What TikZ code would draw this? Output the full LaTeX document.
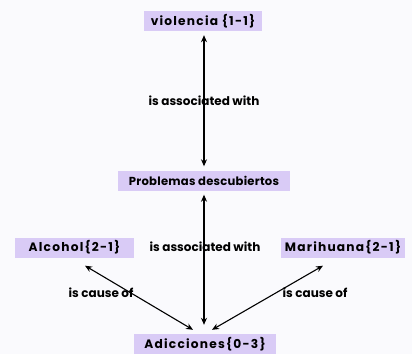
\documentclass[tikz,border=0pt]{standalone}
\usepackage{fontspec}
\setmainfont{Poppins}
\newfontfamily\nodefont[LetterSpace=10]{Poppins}
\newfontfamily\nodefonttight[LetterSpace=2]{Poppins}
\usetikzlibrary{arrows.meta}
\definecolor{bgc}{HTML}{FAFAFD}
\definecolor{nodec}{HTML}{D9CBF6}
\begin{document}
\begin{tikzpicture}[x=1pt,y=-1pt,
  concept/.style={fill=nodec,minimum height=20pt,inner xsep=4pt,inner ysep=0pt,font=\nodefont\bfseries\fontsize{12.2}{13}\selectfont,text=black},
  concepttight/.style={concept,font=\nodefonttight\bfseries\fontsize{11.6}{13}\selectfont},
  lab/.style={font=\bfseries\fontsize{12}{13}\selectfont,text=black},
  link/.style={line width=1.1pt,{Stealth[length=7pt,width=6pt]}-{Stealth[length=7pt,width=6pt]}}]
\fill[bgc] (0,0) rectangle (412,354);
\useasboundingbox (0,0) rectangle (412,354);
\node[concept,minimum width=118pt] (vio) at (203,21) {violencia \{1-1\}};
\node[concepttight,minimum width=172pt] (pro) at (204,180.5) {Problemas descubiertos};
\node[concept,minimum width=119pt] (alc) at (74.5,247.5) {Alcohol\{2-1\}};
\node[concept,minimum width=118pt] (mar) at (343,247.5) {Marihuana\{2-1\}};
\node[concept,minimum width=142pt] (adi) at (205,344) {Adicciones\{0-3\}};
\node[lab] (l1) at (204,101) {is associated with};
\node[lab] (l2) at (205,247) {is associated with};
\node[lab] (l3) at (101,293) {is cause of};
\node[lab] (l4) at (315,293) {is cause of};
\draw[link] ([xshift=1pt,yshift=-4pt]vio.south) -- ([yshift=4pt]pro.north);
\draw[link] ([yshift=-4pt]pro.south) -- ([xshift=-1pt,yshift=9pt]adi.north);
\draw[link] ([xshift=10.5pt,yshift=-8pt]alc.south) -- ([xshift=-12pt,yshift=4pt]adi.north);
\draw[link] ([xshift=-20pt,yshift=-8pt]mar.south) -- ([xshift=7pt,yshift=4pt]adi.north);
\end{tikzpicture}
\end{document}
